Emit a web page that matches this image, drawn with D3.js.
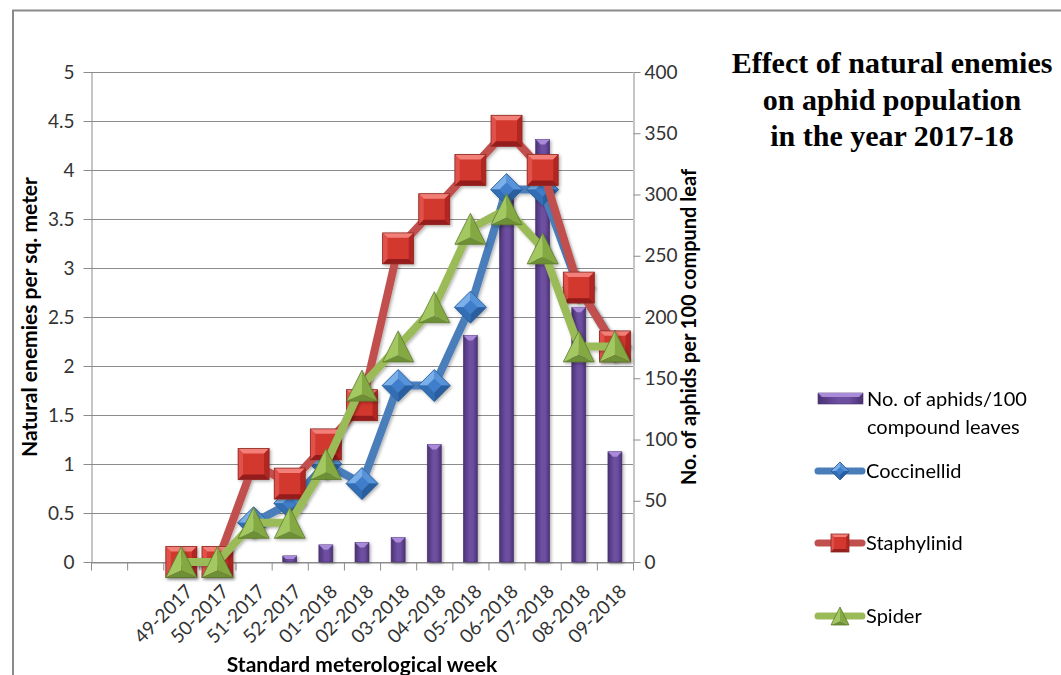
<!DOCTYPE html>
<html>
<head>
<meta charset="utf-8">
<script src="https://cdn.jsdelivr.net/npm/d3@7"></script>
<style>
  html, body { margin: 0; padding: 0; background: #ffffff; }
  svg { display: block; }
  .tick text { font-family: Lato, "Liberation Sans", sans-serif; font-size: 19px; fill: #333333; }
</style>
</head>
<body>
<script>
// Standard meteorological weeks (two leading empty slots on the category axis)
const weeks = ["", "", "49-2017", "50-2017", "51-2017", "52-2017", "01-2018", "02-2018",
               "03-2018", "04-2018", "05-2018", "06-2018", "07-2018", "08-2018", "09-2018"];

// Aphids per 100 compound leaves (right axis)
const aphids = [null, null, null, null, null, 5, 14, 16, 20, 96, 185, 300, 345, 208, 90];

// Natural enemies per sq. meter (left axis)
const coccinellid = [null, null, null, null, 0.4, 0.6, 1.0, 0.8, 1.8, 1.8, 2.6, 3.8, 3.8, 2.8, 2.2];
const staphylinid = [null, null, 0, 0, 1.0, 0.8, 1.2, 1.6, 3.2, 3.6, 4.0, 4.4, 4.0, 2.8, 2.2];
const spider      = [null, null, 0, 0, 0.4, 0.4, 1.0, 1.8, 2.2, 2.6, 3.4, 3.6, 3.2, 2.2, 2.2];

// Tick labels
const leftTicks  = [0, 0.5, 1, 1.5, 2, 2.5, 3, 3.5, 4, 4.5, 5];
const rightTicks = [0, 50, 100, 150, 200, 250, 300, 350, 400];

const titleLines = ["Effect of natural enemies", "on aphid population", "in the year 2017-18"];

const W = 1061, H = 675;
const plot = { left: 91, right: 633, top: 72, bottom: 562 };
const sans = "Lato, 'Liberation Sans', sans-serif";

const svg = d3.select("body").append("svg").attr("width", W).attr("height", H);
const defs = svg.append("defs");

// soft shadow used under bars and series
const shadow = defs.append("filter").attr("id", "shadow")
  .attr("x", "-30%").attr("y", "-30%").attr("width", "160%").attr("height", "160%");
shadow.append("feDropShadow").attr("dx", 1.5).attr("dy", 1.5)
  .attr("stdDeviation", 1.4).attr("flood-color", "#000").attr("flood-opacity", 0.3);

// bar body gradient (darker edges, lighter middle)
const barGrad = defs.append("linearGradient").attr("id", "barGrad")
  .attr("x1", 0).attr("x2", 1).attr("y1", 0).attr("y2", 0);
[["0%", "#4b3275"], ["45%", "#6e50a2"], ["70%", "#6c4d9e"], ["100%", "#4a3173"]]
  .forEach(([o, c]) => barGrad.append("stop").attr("offset", o).attr("stop-color", c));

// scales
const x = d3.scaleBand().domain(d3.range(weeks.length)).range([plot.left, plot.right])
  .paddingInner(0).paddingOuter(0);
const xEdge = d3.scaleLinear().domain([0, weeks.length]).range([plot.left, plot.right]);
const yL = d3.scaleLinear().domain([0, 5]).range([plot.bottom, plot.top]);
const yR = d3.scaleLinear().domain([0, 400]).range([plot.bottom, plot.top]);
const cx = i => x(i) + x.bandwidth() / 2;

// outer chart frame
svg.append("path").attr("d", `M13,${H} V10.5 H${W}`)
  .attr("fill", "none").attr("stroke", "#8a8a8a").attr("stroke-width", 2);

// horizontal gridlines
svg.append("g").selectAll("line").data(leftTicks).join("line")
  .attr("x1", plot.left).attr("x2", plot.right)
  .attr("y1", d => Math.round(yL(d)) + 0.5).attr("y2", d => Math.round(yL(d)) + 0.5)
  .attr("stroke", "#8c8c8c").attr("stroke-width", 1);

// axes
function styleAxis(g) {
  g.selectAll(".domain").attr("stroke", "#8c8c8c");
  g.selectAll(".tick line").attr("stroke", "#8c8c8c");
}
svg.append("g").attr("transform", `translate(${plot.left + 0.5},0)`)
  .call(d3.axisLeft(yL).tickValues(leftTicks).tickSize(8).tickSizeOuter(0).tickPadding(9)
    .tickFormat(d => String(d)))
  .call(styleAxis);
svg.append("g").attr("transform", `translate(${plot.right + 0.5},0)`)
  .call(d3.axisRight(yR).tickValues(rightTicks).tickSize(7).tickSizeOuter(0).tickPadding(4)
    .tickFormat(d => String(d)))
  .call(styleAxis);
svg.append("g").attr("transform", `translate(0,${plot.bottom + 0.5})`)
  .call(d3.axisBottom(xEdge).tickValues(d3.range(weeks.length + 1)).tickSize(8)
    .tickSizeOuter(0).tickFormat(""))
  .call(styleAxis);

// rotated week labels
svg.append("g").selectAll("text").data(weeks.map((w, i) => ({ w, i })).filter(d => d.w))
  .join("text")
  .attr("transform", d => `translate(${cx(d.i) + 8},${plot.bottom + 26}) rotate(-45)`)
  .attr("text-anchor", "end").attr("dy", "0.35em")
  .attr("font-family", sans).attr("font-size", 19).attr("fill", "#333333")
  .text(d => d.w);

// aphid bars
const barW = 14;
const bars = svg.append("g").attr("filter", "url(#shadow)")
  .selectAll("g").data(aphids.map((v, i) => ({ v, i })).filter(d => d.v != null)).join("g");
bars.append("rect")
  .attr("x", d => cx(d.i) - barW / 2).attr("width", barW)
  .attr("y", d => yR(d.v)).attr("height", d => yR(0) - yR(d.v))
  .attr("fill", "url(#barGrad)").attr("stroke", "#46306c").attr("stroke-width", 0.6);
bars.append("path")
  .attr("d", d => {
    const x0 = cx(d.i) - barW / 2, y0 = yR(d.v), b = Math.min(5, (yR(0) - yR(d.v)) / 2);
    return `M${x0},${y0} H${x0 + barW} L${x0 + barW - b},${y0 + b} H${x0 + b} Z`;
  })
  .attr("fill", "#a88ad8");

// marker shapes with bevelled faces
function drawSquare(g, s) {
  const h = s / 2, b = s * 0.16;
  g.append("rect").attr("x", -h).attr("y", -h).attr("width", s).attr("height", s).attr("fill", "#d3372f");
  g.append("path").attr("d", `M${-h},${-h} H${h} L${h - b},${-h + b} H${-h + b} Z`).attr("fill", "#f28078");
  g.append("path").attr("d", `M${-h},${-h} L${-h + b},${-h + b} V${h - b} L${-h},${h} Z`).attr("fill", "#e0514a");
  g.append("path").attr("d", `M${h},${-h} V${h} L${h - b},${h - b} V${-h + b} Z`).attr("fill", "#b12721");
  g.append("path").attr("d", `M${-h},${h} H${h} L${h - b},${h - b} H${-h + b} Z`).attr("fill", "#951f1a");
  g.append("rect").attr("x", -h).attr("y", -h).attr("width", s).attr("height", s)
    .attr("fill", "none").attr("stroke", "#8e2a25").attr("stroke-width", 0.8);
}
function drawDiamond(g, s) {
  const h = s / 2, k = h * 0.45;
  g.append("path").attr("d", `M0,${-h} L${h},0 L0,${h} L${-h},0 Z`).attr("fill", "#3f7ecb");
  g.append("path").attr("d", `M0,${-h} L${-h},0 L${-k},0 L0,${-k} Z`).attr("fill", "#7aafe8");
  g.append("path").attr("d", `M0,${-h} L${h},0 L${k},0 L0,${-k} Z`).attr("fill", "#5693d8");
  g.append("path").attr("d", `M0,${h} L${h},0 L${k},0 L0,${k} Z`).attr("fill", "#2a5f9f");
  g.append("path").attr("d", `M0,${h} L${-h},0 L${-k},0 L0,${k} Z`).attr("fill", "#336eb3");
  g.append("path").attr("d", `M0,${-h} L${h},0 L0,${h} L${-h},0 Z`)
    .attr("fill", "none").attr("stroke", "#2b5a94").attr("stroke-width", 0.8);
}
function drawTriangle(g, s) {
  const h = s / 2, m = h * 0.55;
  g.append("path").attr("d", `M0,${-h} L${-h},${h} L0,${m} Z`).attr("fill", "#a3c862");
  g.append("path").attr("d", `M0,${-h} L${h},${h} L0,${m} Z`).attr("fill", "#84a843");
  g.append("path").attr("d", `M${-h},${h} L${h},${h} L0,${m} Z`).attr("fill", "#6d8f35");
  g.append("path").attr("d", `M0,${-h} L${h},${h} L${-h},${h} Z`)
    .attr("fill", "none").attr("stroke", "#5d7b2c").attr("stroke-width", 0.8);
}

const series = [
  { name: "Coccinellid", values: coccinellid, color: "#4a7ebb", marker: drawDiamond, size: 32 },
  { name: "Staphylinid", values: staphylinid, color: "#c0504d", marker: drawSquare, size: 31 },
  { name: "Spider",      values: spider,      color: "#9bbb59", marker: drawTriangle, size: 31 }
];

const line = d3.line().defined(d => d.v != null).x(d => cx(d.i)).y(d => yL(d.v));

series.forEach(s => {
  const pts = s.values.map((v, i) => ({ v, i }));
  const g = svg.append("g").attr("filter", "url(#shadow)");
  g.append("path").datum(pts).attr("d", line)
    .attr("fill", "none").attr("stroke", s.color).attr("stroke-width", 8)
    .attr("stroke-linejoin", "round").attr("stroke-linecap", "round");
  g.selectAll("g.m").data(pts.filter(d => d.v != null)).join("g").attr("class", "m")
    .attr("transform", d => `translate(${cx(d.i)},${yL(d.v)})`)
    .each(function () { s.marker(d3.select(this), s.size); });
});

// title
svg.append("text").attr("x", 892).attr("y", 73)
  .attr("text-anchor", "middle").attr("font-family", "'Liberation Serif', 'Times New Roman', serif")
  .attr("font-weight", "bold").attr("font-size", 30).attr("fill", "#000")
  .selectAll("tspan").data(titleLines).join("tspan")
  .attr("x", 892).attr("dy", (d, i) => i === 0 ? 0 : 36.5).text(d => d);

// axis titles
svg.append("text").attr("transform", `translate(37,${(plot.top + plot.bottom) / 2}) rotate(-90)`)
  .attr("text-anchor", "middle").attr("font-family", sans).attr("font-weight", "bold")
  .attr("font-size", 21).attr("fill", "#000").text("Natural enemies per sq. meter");
svg.append("text").attr("transform", `translate(696,327) rotate(-90)`)
  .attr("text-anchor", "middle").attr("font-family", sans).attr("font-weight", "bold")
  .attr("font-size", 20).attr("fill", "#000").text("No. of aphids per 100 compund leaf");
svg.append("text").attr("x", 362).attr("y", 672)
  .attr("text-anchor", "middle").attr("font-family", sans).attr("font-weight", "bold")
  .attr("font-size", 21).attr("fill", "#000").text("Standard meterological week");

// legend
const legFont = 20;
const leg = svg.append("g");
leg.append("rect").attr("x", 818).attr("y", 393).attr("width", 45).attr("height", 11)
  .attr("fill", "url(#barGrad)").attr("stroke", "#46306c").attr("stroke-width", 0.6);
leg.append("path").attr("d", "M818,393 H863 L859,397 H822 Z").attr("fill", "#a88ad8");
leg.append("text").attr("x", 867).attr("y", 399).attr("dy", "0.35em")
  .attr("font-family", sans).attr("font-size", legFont).attr("fill", "#000").text("No. of aphids/100");
leg.append("text").attr("x", 867).attr("y", 427).attr("dy", "0.35em")
  .attr("font-family", sans).attr("font-size", legFont).attr("fill", "#000").text("compound leaves");

const legY = [471, 543, 616];
series.forEach((s, k) => {
  const g = leg.append("g").attr("transform", `translate(0,${legY[k]})`);
  g.append("line").attr("x1", 818).attr("x2", 862).attr("y1", 0).attr("y2", 0)
    .attr("stroke", s.color).attr("stroke-width", 7).attr("stroke-linecap", "round");
  const m = g.append("g").attr("transform", "translate(840,0)");
  s.marker(m, 18);
  g.append("text").attr("x", 866).attr("y", 0).attr("dy", "0.35em")
    .attr("font-family", sans).attr("font-size", legFont).attr("fill", "#000").text(s.name);
});
</script>
</body>
</html>
